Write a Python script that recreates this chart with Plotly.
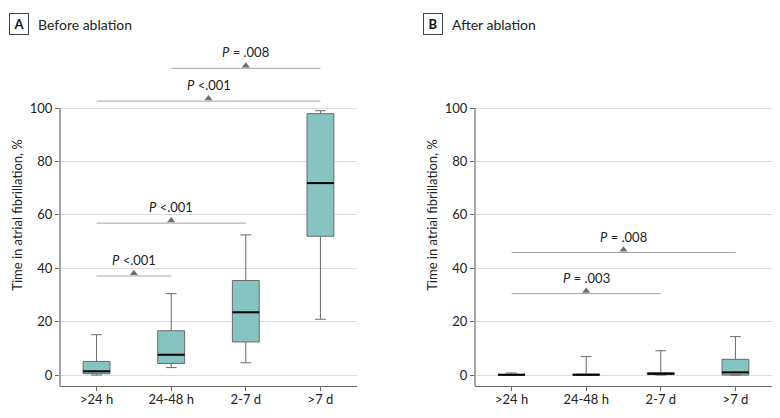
import plotly.graph_objs as go
from plotly.subplots import make_subplots

# Categories and box statistics (time in AF, %)
categories = [">24 h", "24-48 h", "2-7 d", ">7 d"]

before_low = [0.0, 2.8, 4.6, 20.9]
before_q1 = [0.5, 4.3, 12.4, 52.0]
before_med = [1.4, 7.6, 23.5, 71.9]
before_q3 = [5.1, 16.6, 35.4, 97.9]
before_high = [15.1, 30.5, 52.5, 99.0]

after_low = [0.0, 0.0, 0.0, 0.0]
after_q1 = [0.0, 0.0, 0.2, 0.0]
after_med = [0.1, 0.1, 0.5, 1.0]
after_q3 = [0.3, 0.4, 0.9, 5.9]
after_high = [0.8, 6.9, 9.1, 14.4]

# Pairwise comparisons: (from group, to group), bracket height, label
before_pairs = [(0, 1), (0, 2), (0, 3), (1, 3)]
before_bracket_y = [37.1, 56.9, 102.6, 114.9]
before_labels = ["<i>P</i> <.001", "<i>P</i> <.001", "<i>P</i> <.001", "<i>P</i> = .008"]

after_pairs = [(0, 2), (0, 3)]
after_bracket_y = [30.5, 45.9]
after_labels = ["<i>P</i> = .003", "<i>P</i> = .008"]

FONT = "Lato"
BOX_FILL = "#86c4c1"
BOX_LINE = "#6a6a6a"
BRACKET = "#a3a3a3"
BOX_W = 0.36
Y_MIN, Y_MAX = -4.1, 124
W = 780
OFF = 8  # page body margin

fig = make_subplots(rows=1, cols=2)


def add_panel(col, low, q1, med, q3, high, pairs, bracket_y, labels):
    xs = list(range(len(categories)))
    fig.add_trace(go.Box(
        x=xs, q1=q1, median=med, q3=q3, lowerfence=low, upperfence=high,
        width=BOX_W, whiskerwidth=0.4, fillcolor=BOX_FILL,
        line=dict(color=BOX_LINE, width=1), boxpoints=False,
        showlegend=False, hoverinfo="skip"), row=1, col=col)

    # black median bars drawn over the box
    mx, my = [], []
    for i, m in zip(xs, med):
        mx += [i - BOX_W / 2, i + BOX_W / 2, None]
        my += [m, m, None]
    fig.add_trace(go.Scatter(x=mx, y=my, mode="lines",
                             line=dict(color="black", width=2),
                             showlegend=False, hoverinfo="skip"), row=1, col=col)

    # comparison brackets
    bx, by, tx, ty = [], [], [], []
    for (a, b), yv in zip(pairs, bracket_y):
        bx += [a, b, None]
        by += [yv, yv, None]
        tx.append((a + b) / 2)
        ty.append(yv + 1.0)
    fig.add_trace(go.Scatter(x=bx, y=by, mode="lines",
                             line=dict(color=BRACKET, width=1),
                             showlegend=False, hoverinfo="skip"), row=1, col=col)
    fig.add_trace(go.Scatter(x=tx, y=ty, mode="markers",
                             marker=dict(symbol="triangle-up", size=7, color="#6e6e6e"),
                             showlegend=False, hoverinfo="skip"), row=1, col=col)
    xref = "x" if col == 1 else "x2"
    yref = "y" if col == 1 else "y2"
    for x, yv, lab in zip(tx, bracket_y, labels):
        fig.add_annotation(x=x, y=yv, xref=xref, yref=yref, text=lab,
                           showarrow=False, yanchor="bottom", yshift=6,
                           font=dict(family=FONT, size=13, color="#222222"))

    # y axis line only up to 100
    fig.add_shape(type="line", xref=xref + " domain", yref=yref,
                  x0=0, x1=0, y0=Y_MIN, y1=100,
                  line=dict(color="#6a6a6a", width=1.2))


add_panel(1, before_low, before_q1, before_med, before_q3, before_high,
          before_pairs, before_bracket_y, before_labels)
add_panel(2, after_low, after_q1, after_med, after_q3, after_high,
          after_pairs, after_bracket_y, after_labels)

axis_x = dict(tickmode="array", tickvals=list(range(len(categories))), ticktext=categories,
              range=[-0.49, 3.49], showline=True, linecolor="#6a6a6a", linewidth=1.2,
              ticks="outside", ticklen=4, tickcolor="#6a6a6a", showgrid=False,
              ticklabelstandoff=-3,
              zeroline=False, tickfont=dict(family=FONT, size=13, color="#222222"))
axis_y = dict(tickmode="array", tickvals=[0, 20, 40, 60, 80, 100], range=[Y_MIN, Y_MAX],
              showline=False, ticks="outside", ticklen=4, tickcolor="#6a6a6a",
              showgrid=True, gridcolor="#dcdcdc", gridwidth=1, zeroline=False,
              tickfont=dict(family=FONT, size=13, color="#222222"),
              title=dict(text="Time in atrial fibrillation, %", standoff=4,
                         font=dict(family=FONT, size=13, color="#222222")))

fig.update_layout(
    width=W, height=418,
    margin=dict(l=0, r=0, t=44 - OFF, b=32 + OFF),
    plot_bgcolor="white", paper_bgcolor="white",
    xaxis=dict(axis_x, domain=[(60 - OFF) / W, (357 - OFF) / W]),
    xaxis2=dict(axis_x, domain=[(475 - OFF) / W, (772 - OFF) / W]),
    yaxis=dict(axis_y),
    yaxis2=dict(axis_y),
)

# panel headings
for px, letter, title in [(9, "A", "Before ablation"), (423, "B", "After ablation")]:
    fig.add_annotation(x=(px - OFF) / W, y=1.0, xref="paper", yref="paper", yshift=20,
                       text="<b>%s</b>" % letter, showarrow=False, xanchor="left",
                       yanchor="middle", bordercolor="#444444", borderwidth=1, borderpad=2,
                       width=14, font=dict(family=FONT, size=13, color="#111111"))
    fig.add_annotation(x=(px - OFF + 27) / W, y=1.0, xref="paper", yref="paper", yshift=20,
                       text=title, showarrow=False, xanchor="left", yanchor="middle",
                       font=dict(family=FONT, size=14, color="#222222"))

fig.write_html("out.html")
